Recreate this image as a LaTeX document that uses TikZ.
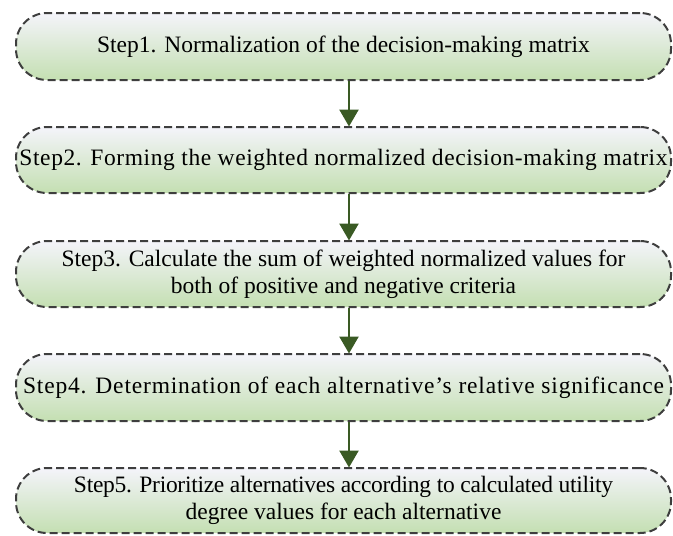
\documentclass[tikz,border=0pt]{standalone}
\usepackage{fontspec}
\setmainfont{Liberation Serif}
\usetikzlibrary{arrows.meta}
\definecolor{edgegray}{HTML}{3E3E3E}
\definecolor{topfill}{HTML}{F4F4FA}
\definecolor{bottomfill}{HTML}{C4DFB2}
\definecolor{arrowgreen}{HTML}{3A5A24}
\tikzset{
  stepbox/.style={draw=edgegray, line width=2pt, dash pattern=on 8pt off 4pt,
    rounded corners=31pt, top color=topfill, bottom color=bottomfill,
    minimum width=655pt, align=center, inner sep=0pt,
    font=\fontsize{23.5}{27}\selectfont},
  flow/.style={draw=arrowgreen, line width=2.5pt,
    -{Triangle[width=19pt,length=17pt]}, shorten >=-0.5pt}
}
\begin{document}
\begin{tikzpicture}[x=1pt,y=-1pt]
\useasboundingbox (0,0) rectangle (673,536);
\node[stepbox, minimum height=67pt] (s1) at (343.5,46.5)
  {Step1. Normalization of the decision-making matrix};
\node[stepbox, minimum height=66pt] (s2) at (343.5,160)
  {\addfontfeature{LetterSpace=2.5}Step2. Forming the weighted normalized decision-making matrix};
\node[stepbox, minimum height=66pt] (s3) at (343.5,274)
  {Step3. Calculate the sum of weighted normalized values for\\both of positive and negative criteria};
\node[stepbox, minimum height=67pt] (s4) at (343.5,387.5)
  {\addfontfeature{LetterSpace=3.5}Step4. Determination of each alternative’s relative significance};
\node[stepbox, minimum height=65pt] (s5) at (343.5,500.5)
  {\addfontfeature{LetterSpace=-1.2}Step5. Prioritize alternatives according to calculated utility\\degree values for each alternative};
\foreach \a/\b in {s1/s2,s2/s3,s3/s4,s4/s5}
  \draw[flow] ([xshift=5.5pt]\a.south) -- ([xshift=5.5pt]\b.north);
\end{tikzpicture}
\end{document}
